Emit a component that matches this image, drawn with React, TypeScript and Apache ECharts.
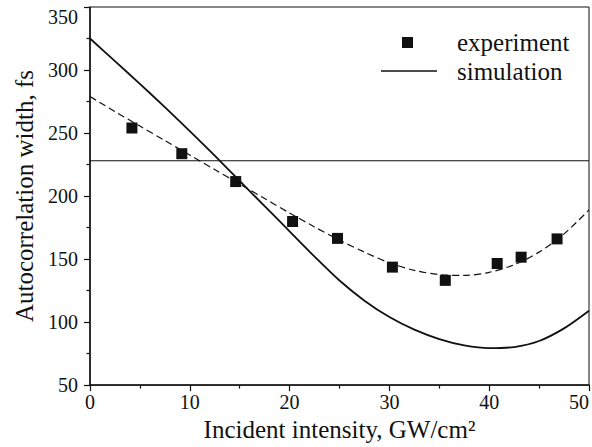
import React, { useEffect, useRef } from "react";
import * as echarts from "echarts";

// Experiment points: [intensity GW/cm², width fs]
const experimentX = [4.2, 9.2, 14.6, 20.3, 24.8, 30.3, 35.6, 40.8, 43.2, 46.8];
const experimentY = [254, 233.6, 211.5, 179.8, 166.4, 143.6, 133.1, 146.5, 151.5, 166];

// Dashed fit through the experiment
const fitX = [0, 2.5, 5, 7.5, 10, 12.5, 15, 17.5, 20, 22.5, 25, 27.5, 30, 32.5, 35, 37.5, 40, 42.5, 45, 47.5, 50];
const fitY = [279, 267, 255.5, 244, 232.5, 221, 209.5, 198, 186.5, 175.5, 165, 155.5, 147, 141, 137.7, 137, 139.5, 145.5, 155.5, 170, 189];

// Simulation (solid)
const simX = [0, 2.5, 5, 7.5, 10, 12.5, 15, 17.5, 20, 22.5, 25, 27.5, 30, 32.5, 35, 37.5, 40, 42.5, 45, 47.5, 50];
const simY = [325, 307, 289, 270.5, 251.5, 232, 212, 192, 172, 152, 133, 117, 104, 94, 86.5, 81.5, 79.3, 80.2, 85, 95, 109];

// Horizontal reference level
const refX = [0, 50];
const refY = [228, 228];

const xTicks = { min: 0, max: 50, interval: 10 };
const yTicks = { min: 50, max: 350, interval: 50 };

const FONT = "'Liberation Serif', 'Times New Roman', serif";
const INK = "#111";

const zip = (xs: number[], ys: number[]) => xs.map((x, i) => [x, ys[i]]);

export default function App() {
  const ref = useRef<HTMLDivElement>(null);
  useEffect(() => {
    document.body.style.margin = "0";
    const chart = echarts.init(ref.current!, undefined, { renderer: "svg" });
    chart.setOption({
      animation: false,
      backgroundColor: "#fff",
      textStyle: { fontFamily: FONT, color: INK },
      grid: {
        left: 90,
        right: 1,
        top: 7,
        bottom: 58,
        show: true,
        borderColor: INK,
        borderWidth: 1,
      },
      xAxis: {
        type: "value",
        min: xTicks.min,
        max: xTicks.max,
        interval: xTicks.interval,
        name: "Incident intensity, GW/cm²",
        nameLocation: "middle",
        nameGap: 31,
        nameTextStyle: { fontFamily: FONT, fontSize: 25, color: INK },
        axisLine: { show: true, onZero: false, lineStyle: { color: INK, width: 1.5 } },
        axisTick: { show: true, inside: false, length: 6, lineStyle: { color: INK, width: 1.2 } },
        minorTick: { show: true, splitNumber: 2, length: 3.5, lineStyle: { color: INK, width: 1.2 } },
        splitLine: { show: false },
        axisLabel: {
          fontFamily: FONT,
          fontSize: 20,
          color: INK,
          margin: 7,
          alignMaxLabel: "right",
        },
      },
      yAxis: {
        type: "value",
        min: yTicks.min,
        max: yTicks.max,
        interval: yTicks.interval,
        name: "Autocorrelation width, fs",
        nameLocation: "middle",
        nameGap: 52,
        nameTextStyle: { fontFamily: FONT, fontSize: 25, color: INK },
        axisLine: { show: true, onZero: false, lineStyle: { color: INK, width: 1.5 } },
        axisTick: { show: true, inside: false, length: 6, lineStyle: { color: INK, width: 1.2 } },
        minorTick: { show: true, splitNumber: 2, length: 3.5, lineStyle: { color: INK, width: 1.2 } },
        splitLine: { show: false },
        axisLabel: {
          fontFamily: FONT,
          fontSize: 20,
          color: INK,
          margin: 12,
          verticalAlignMaxLabel: "top",
        },
      },
      graphic: [
        {
          type: "rect",
          shape: { x: 402, y: 37, width: 11, height: 11 },
          style: { fill: INK },
        },
        {
          type: "line",
          shape: { x1: 381, y1: 71, x2: 437, y2: 71 },
          style: { stroke: INK, lineWidth: 1.3 },
        },
        {
          type: "text",
          x: 457,
          y: 42,
          style: { text: "experiment", fontFamily: FONT, fontSize: 25, fill: INK, verticalAlign: "middle" },
        },
        {
          type: "text",
          x: 457,
          y: 71,
          style: { text: "simulation", fontFamily: FONT, fontSize: 25, fill: INK, verticalAlign: "middle" },
        },
      ],
      series: [
        {
          name: "reference",
          type: "line",
          data: zip(refX, refY),
          symbol: "none",
          lineStyle: { color: INK, width: 1.1 },
          silent: true,
        },
        {
          name: "simulation",
          type: "line",
          data: zip(simX, simY),
          smooth: 0.3,
          symbol: "none",
          lineStyle: { color: INK, width: 1.8 },
        },
        {
          name: "fit",
          type: "line",
          data: zip(fitX, fitY),
          smooth: 0.3,
          symbol: "none",
          lineStyle: { color: INK, width: 1.2, type: [7, 4] },
        },
        {
          name: "experiment",
          type: "scatter",
          data: zip(experimentX, experimentY),
          symbol: "rect",
          symbolSize: 11,
          itemStyle: { color: INK, opacity: 1 },
        },
      ],
    });
    return () => chart.dispose();
  }, []);
  return <div ref={ref} style={{ width: 592, height: 447 }} />;
}
